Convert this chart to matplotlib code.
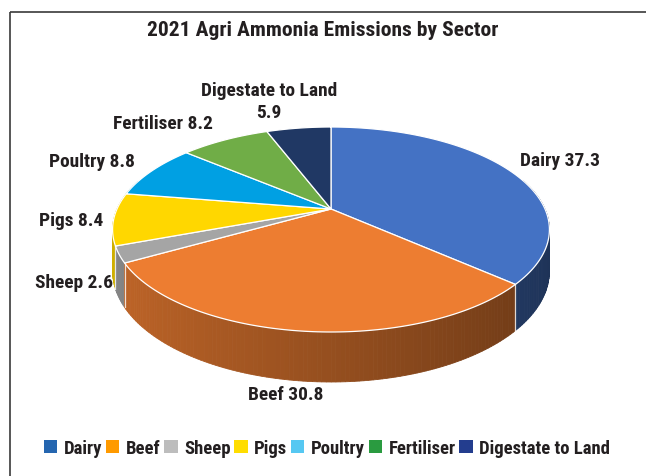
import numpy as np
import matplotlib.pyplot as plt
import matplotlib.colors as mcolors
from matplotlib.patches import Polygon, Patch

# =============================================================================
# DATA
# =============================================================================
sectors = ['Dairy', 'Beef', 'Sheep', 'Pigs', 'Poultry', 'Fertiliser', 'Digestate to Land']
values = [37.3, 30.8, 2.6, 8.4, 8.8, 8.2, 5.9]
label_text = ['Dairy 37.3', 'Beef 30.8', 'Sheep 2.6', 'Pigs 8.4', 'Poultry 8.8',
              'Fertiliser 8.2', 'Digestate to Land\n5.9']

pie_colors = ['#4472C4', '#ED7D31', '#A5A5A5', '#FFD700', '#00A0E3', '#70AD47', '#203864']
legend_colors = ['#2566B0', '#FF9A00', '#BDBDBD', '#FFDD00', '#56C8F2', '#2A9B40', '#233D8E']

# label anchors (pixel layout): x, y, horizontal alignment
label_pos = [(560, 161, 'center'), (286, 395, 'center'), (113, 283, 'right'),
             (103, 221, 'right'), (135, 162, 'right'), (163, 124, 'center'),
             (269, 102, 'center')]

FONT = ['Roboto Condensed', 'Liberation Sans Narrow', 'Open Sans Condensed',
        'Roboto', 'DejaVu Sans']

# =============================================================================
# PIE GEOMETRY (tilted disc with a little perspective)
# =============================================================================
CX, CY = 331, 210     # centre of the top face, pixels
RX, RY = 214, 98.4    # radii of the top face
K = 0.2               # perspective strength
DEPTH = 40            # thickness of the pie


def project(phi, r=1.0, z=0.0):
    """phi measured clockwise from 12 o'clock, z=1 is the bottom face"""
    X = r * np.sin(phi)
    Y = r * np.cos(phi)
    s = 1.0 / (1.0 + K * Y)
    return CX + RX * X * s, CY - RY * Y * s + DEPTH * z * s


def shade(color, phi):
    f = 0.63 - 0.19 * np.sin(phi)
    rgb = np.array(mcolors.to_rgb(color))
    return tuple(rgb * f)


fig = plt.figure(figsize=(6.46, 4.77), dpi=100)
ax = fig.add_axes([0, 0, 1, 1])
ax.set_xlim(0, 646)
ax.set_ylim(477, 0)
ax.axis('off')

fracs = np.array(values) / np.sum(values)
bounds = np.concatenate([[0], np.cumsum(fracs)]) * 2 * np.pi

# side wall: small quads, painted back to front
quads = []
for i, col in enumerate(pie_colors):
    a0, a1 = bounds[i], bounds[i + 1]
    steps = np.linspace(a0, a1, max(int(np.degrees(a1 - a0)), 2) + 1)
    for p0, p1 in zip(steps[:-1], steps[1:]):
        mid = (p0 + p1) / 2
        if np.cos(mid) > 0.3:
            continue
        quads.append((np.cos(mid), p0, p1, shade(col, mid)))

quads.sort(key=lambda q: -q[0])
for _, p0, p1, c in quads:
    xa, ya = project(p0)
    xb, yb = project(p1)
    xc, yc = project(p1, z=1)
    xd, yd = project(p0, z=1)
    ax.add_patch(Polygon([(xa, ya), (xb, yb), (xc, yc), (xd, yd)],
                         closed=True, facecolor=c, edgecolor=c, lw=0.6, zorder=1))

# white seams on the side wall
for b in bounds[1:-1]:
    if np.cos(b) < -0.2:
        x0, y0 = project(b)
        x1, y1 = project(b, z=1)
        ax.plot([x0, x1], [y0, y1], color='white', lw=0.9, alpha=0.8, zorder=1.5)

# top face
for i, col in enumerate(pie_colors):
    arc = np.linspace(bounds[i], bounds[i + 1], 120)
    xs, ys = project(arc)
    pts = [(CX, CY)] + list(zip(xs, ys))
    ax.add_patch(Polygon(pts, closed=True, facecolor=col, edgecolor='white',
                         lw=0.9, joinstyle='round', zorder=2))

# data labels
labels = []
for txt, (x, y, ha) in zip(label_text, label_pos):
    labels.append(ax.text(x, y, txt, ha=ha, va='center', fontsize=12.5,
                          fontweight='bold', color='#231F20', family=FONT,
                          linespacing=1.3, zorder=5))

# title
title = ax.text(323, 30, '2021 Agri Ammonia Emissions by Sector', ha='center',
                va='center', fontsize=14.5, fontweight='bold', color='#231F20',
                family=FONT)


def make_legend(size):
    handles = [Patch(facecolor=c, edgecolor='none', label=s)
               for c, s in zip(legend_colors, sectors)]
    lg = ax.legend(handles=handles, ncol=7, loc='center', bbox_to_anchor=(327, 449),
                   bbox_transform=ax.transData, frameon=False, borderpad=0,
                   handlelength=0.72, handleheight=0.72, handletextpad=0.35,
                   columnspacing=0.2,
                   prop={'family': FONT, 'weight': 'bold', 'size': size})
    for t in lg.get_texts():
        t.set_color('#231F20')
    return lg


leg = make_legend(12.5)

# fit text sizes to the widths measured on the reference
fig.canvas.draw()
rend = fig.canvas.get_renderer()
w_leg = leg.get_window_extent(rend).width
leg.remove()
leg = make_legend(12.5 * 565 / w_leg)

w_dig = labels[-1].get_window_extent(rend).width
lab_size = 12.5 * 136 / w_dig
for t in labels:
    t.set_fontsize(lab_size)

w_title = title.get_window_extent(rend).width
title.set_fontsize(14.5 * 350 / w_title)

# frame (left and top edges only)
ax.plot([9.5, 9.5], [12.5, 477], color='#3a3a3a', lw=1.2, solid_capstyle='butt')
ax.plot([9.5, 646], [12.5, 12.5], color='#3a3a3a', lw=1.2, solid_capstyle='butt')

fig.savefig('out.png', dpi=100)
